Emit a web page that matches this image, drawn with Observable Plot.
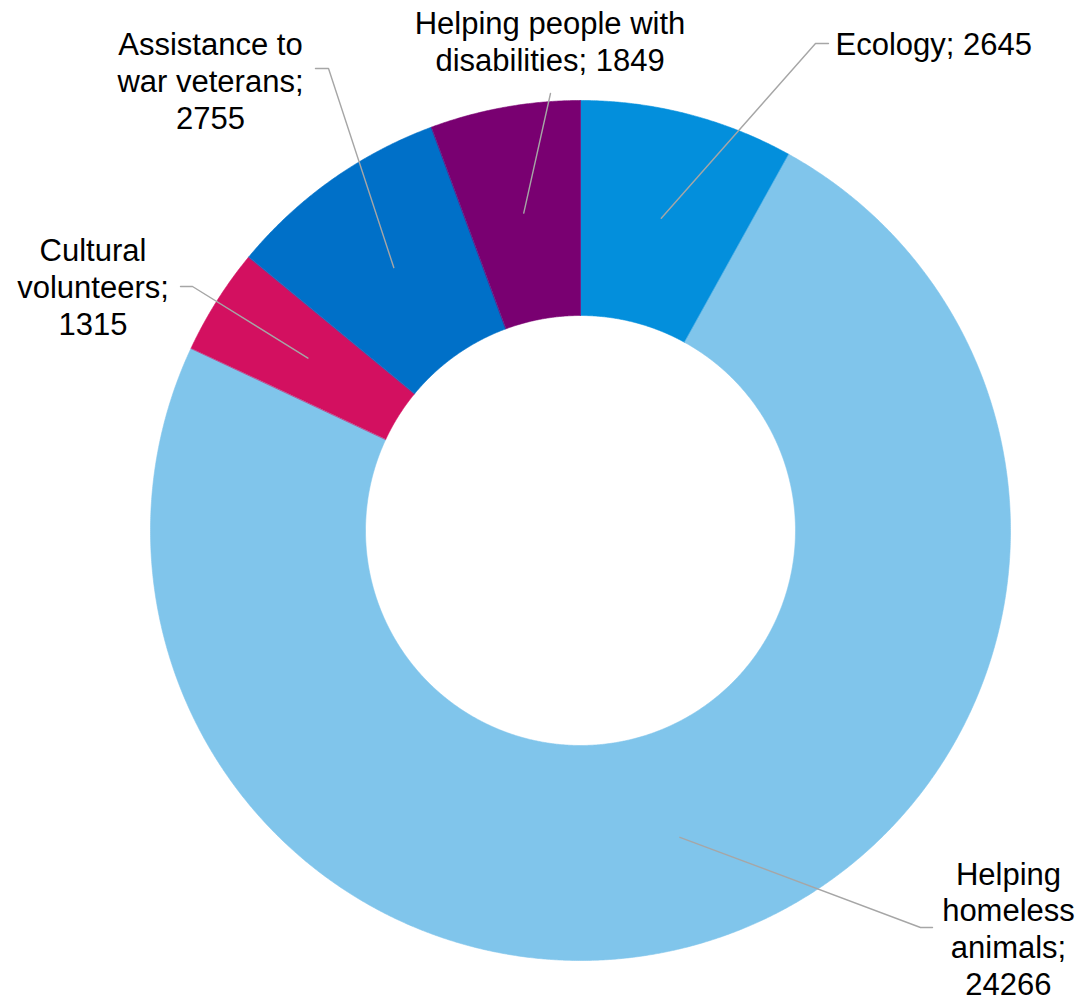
<!DOCTYPE html>
<html><head><meta charset="utf-8">
<script src="https://cdn.jsdelivr.net/npm/d3@7"></script>
<script src="https://cdn.jsdelivr.net/npm/@observablehq/plot@0.6"></script>
<style>body{margin:0;background:#fff}</style>
</head><body><div id="chart"></div>
<script>
// ---- data ----
const categories = ["Ecology", "Helping homeless animals", "Cultural volunteers", "Assistance to war veterans", "Helping people with disabilities"];
const values = [2645, 24266, 1315, 2755, 1849];
const labelTexts = ["Ecology; 2645", "Helping\nhomeless\nanimals;\n24266", "Cultural\nvolunteers;\n1315", "Assistance to\nwar veterans;\n2755", "Helping people with\ndisabilities; 1849"];
const colors = ["#038fdc", "#80c5eb", "#d31060", "#0070c8", "#790071"];

// ---- layout (in units of outer radius) ----
const innerR = 0.5, outerR = 1, leaderR = 0.75;
const labelLayout = [
  {tx: 0.593, ty: 1.133, anchor: "start", hx: 0.5465, hy: 1.1326, ex: 0.5767, ey: 1.1326},
  {tx: 0.9953, ty: -0.9245, anchor: "middle", hx: 0.7907, hy: -0.9233, ex: 0.8186, ey: -0.9233},
  {tx: -1.1337, ty: 0.5674, anchor: "middle", hx: -0.9023, hy: 0.5674, ex: -0.9302, ey: 0.5674},
  {tx: -0.8605, ty: 1.0465, anchor: "middle", hx: -0.5860, hy: 1.0744, ex: -0.6163, ey: 1.0744},
  {tx: -0.0709, ty: 1.1395, anchor: "middle", hx: -0.0698, hy: 1.0163, ex: -0.0698, ey: 1.0163}
];

// ---- geometry ----
const total = d3.sum(values);
const slices = [];
let acc = 0;
categories.forEach((name, i) => {
  const a0 = acc / total * 2 * Math.PI;
  acc += values[i];
  const a1 = acc / total * 2 * Math.PI;
  slices.push({name, a0, a1, mid: (a0 + a1) / 2, i});
});
const polar = (r, a) => [r * Math.sin(a), r * Math.cos(a)];
const slicePts = [];
for (const s of slices) {
  const n = Math.max(2, Math.ceil((s.a1 - s.a0) / (Math.PI / 720)));
  for (let k = 0; k <= n; k++) {
    const a = s.a0 + (s.a1 - s.a0) * k / n;
    const [x, y] = polar(outerR, a);
    slicePts.push({name: s.name, x, y});
  }
  for (let k = n; k >= 0; k--) {
    const a = s.a0 + (s.a1 - s.a0) * k / n;
    const [x, y] = polar(innerR, a);
    slicePts.push({name: s.name, x, y});
  }
}
const leaderPts = [];
const labels = [];
slices.forEach((s, i) => {
  const L = labelLayout[i];
  const [x0, y0] = polar(leaderR, s.mid);
  leaderPts.push({name: s.name, x: x0, y: y0});
  leaderPts.push({name: s.name, x: L.hx, y: L.hy});
  leaderPts.push({name: s.name, x: L.ex, y: L.ey});
  labels.push({name: s.name, text: labelTexts[i], x: L.tx, y: L.ty, anchor: L.anchor});
});

const font = "'Liberation Sans', Arial, Helvetica, sans-serif";
const chart = Plot.plot({
  width: 1081,
  height: 1000,
  marginLeft: 150,
  marginRight: 71,
  marginTop: 100,
  marginBottom: 40,
  x: {domain: [-1, 1], axis: null},
  y: {domain: [-1, 1], axis: null},
  color: {domain: categories, range: colors},
  style: {fontFamily: font, background: "white", overflow: "visible"},
  marks: [
    Plot.line(slicePts, {x: "x", y: "y", z: "name", fill: "name", stroke: "name", strokeWidth: 0.6, curve: "linear-closed"}),
    Plot.line(leaderPts, {x: "x", y: "y", z: "name", stroke: "#a6a6a6", strokeWidth: 1.4}),
    Plot.text(labels.filter(d => d.anchor === "middle"), {x: "x", y: "y", text: "text", textAnchor: "middle", lineAnchor: "middle", lineHeight: 1.19, fontSize: 31, fill: "#000"}),
    Plot.text(labels.filter(d => d.anchor === "start"), {x: "x", y: "y", text: "text", textAnchor: "start", lineAnchor: "middle", lineHeight: 1.19, fontSize: 31, fill: "#000"})
  ]
});
document.getElementById("chart").appendChild(chart);
</script>
</body></html>
